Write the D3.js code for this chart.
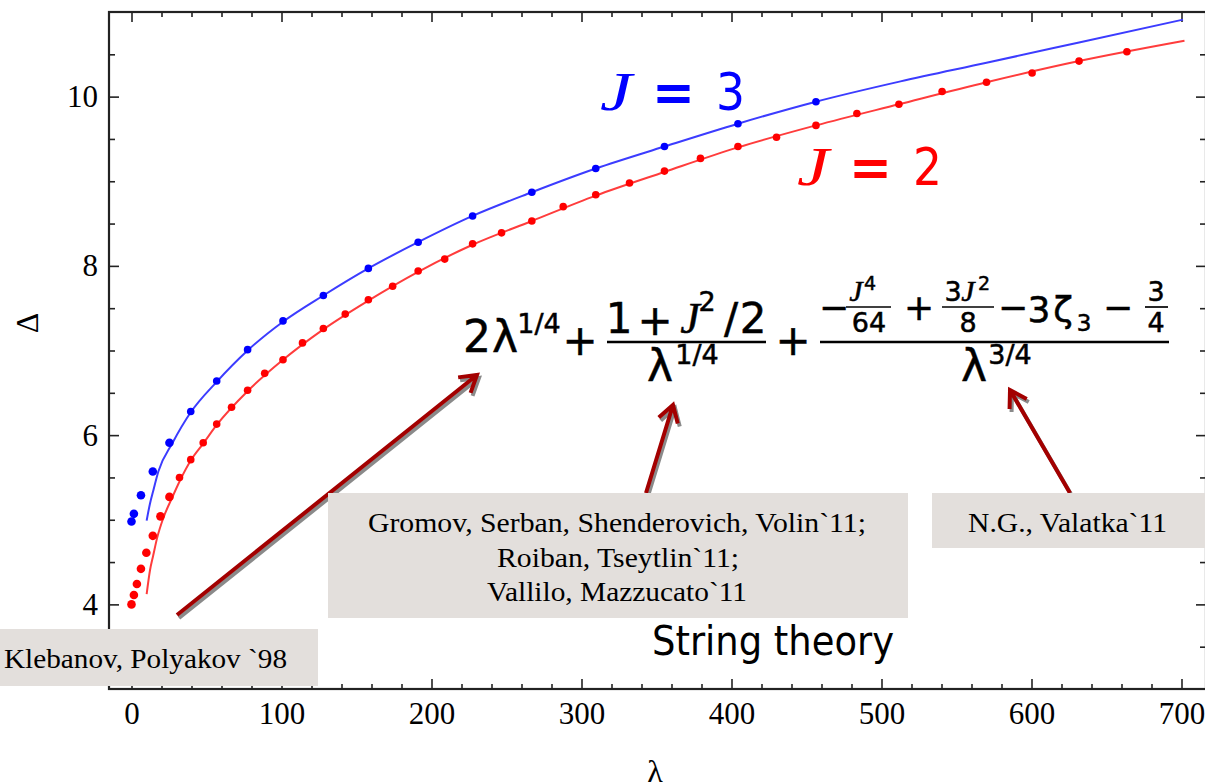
<!DOCTYPE html>
<html><head><meta charset="utf-8">
<script src="https://cdn.jsdelivr.net/npm/d3@7"></script>
<style>html,body{margin:0;padding:0;background:#fff;overflow:hidden}</style>
</head><body>
<svg id="c" width="1205" height="783"></svg>
<script>
// ---------- data ----------
const redLambda  = [0,1.6,3.6,6.3,9.9,14.2,19.3,25.3,32.0,39.5,47.8,56.8,66.7,77.4,88.8,101.0,114.0,127.9,142.5,157.9,174.1,191.1,208.8,227.4,246.7,266.9,287.8,309.5,332.0,355.3,379.3,404.3,430.0,456.3,483.6,511.6,540.4,570.0,600.4,631.7,663.6];
const redDelta   = [4.00,4.11,4.24,4.42,4.61,4.81,5.04,5.27,5.50,5.71,5.91,6.13,6.33,6.53,6.73,6.89,7.09,7.26,7.43,7.60,7.76,7.94,8.08,8.26,8.39,8.53,8.70,8.84,8.98,9.12,9.27,9.41,9.52,9.66,9.80,9.91,10.06,10.17,10.28,10.42,10.53];
const blueLambda = [0,1.6,6.3,14.2,25.3,39.5,56.8,77.4,101.0,127.9,157.9,191.1,227.4,266.9,309.5,355.3,404.3,456.3];
const blueDelta  = [4.98,5.07,5.29,5.57,5.91,6.28,6.64,7.01,7.35,7.65,7.97,8.28,8.59,8.87,9.15,9.41,9.68,9.94];
// string-theory curves
const redCurveLambda  = [10.1,12.3,14.5,17.0,21.2,26.8,32.5,39.5,47.8,56.8,77.4,101.0,127.9,157.9,191.1,227.4,266.9,309.5,355.3,404.3,456.3,511.6,570.0,631.7,702.0];
const redCurveDelta   = [4.12,4.40,4.58,4.78,5.02,5.25,5.47,5.70,5.90,6.12,6.52,6.89,7.25,7.59,7.93,8.25,8.53,8.83,9.11,9.40,9.66,9.91,10.17,10.42,10.66];
const blueCurveLambda = [10.1,12.3,14.6,17.9,27.4,39.5,56.8,77.4,101.0,127.9,157.9,191.1,227.4,266.9,309.5,355.3,404.3,456.3,512.7,570.0,631.7,701.0];
const blueCurveDelta  = [4.99,5.19,5.35,5.57,5.91,6.27,6.63,7.00,7.34,7.65,7.97,8.28,8.59,8.87,9.15,9.41,9.68,9.94,10.18,10.40,10.64,10.91];
const xTickLabels = [0,100,200,300,400,500,600,700];
const yTickLabels = [4,6,8,10];
const xMinorStep = 20, yMinorStep = 0.5;

// ---------- layout ----------
const svg = d3.select("#c");
const L = 109, R = 1206, T = 12, B = 689;
const x = d3.scaleLinear().domain([(L-131.5)/1.5, (R-131.5)/1.5]).range([L, R]);
const y = d3.scaleLinear().domain([3, 11]).range([B, T]);
const SERIF = "'Liberation Serif','Times New Roman',serif";
const SANS = "'DejaVu Sans',sans-serif";
const AX = "#222";

const xMinor = d3.range(0, 701, xMinorStep).filter(v => v % 100 !== 0);
const yMinor = d3.range(3.5, 10.51, yMinorStep).filter(v => !yTickLabels.includes(v));

function styleAxis(g){ g.select(".domain").remove(); g.selectAll("line").attr("stroke",AX).attr("stroke-width",1.6); }

svg.append("g").attr("transform",`translate(0,${B})`)
  .call(d3.axisBottom(x).tickValues(xTickLabels).tickSize(-10).tickPadding(13).tickFormat(d3.format("d")))
  .call(styleAxis).call(g=>g.selectAll("text").attr("font-family",SERIF).attr("font-size",31).attr("fill","#000"));
svg.append("g").attr("transform",`translate(0,${B})`)
  .call(d3.axisBottom(x).tickValues(xMinor).tickSize(-5).tickFormat("")).call(styleAxis);
svg.append("g").attr("transform",`translate(0,${T})`)
  .call(d3.axisTop(x).tickValues(xTickLabels).tickSize(-10).tickFormat("")).call(styleAxis);
svg.append("g").attr("transform",`translate(0,${T})`)
  .call(d3.axisTop(x).tickValues(xMinor).tickSize(-5).tickFormat("")).call(styleAxis);
svg.append("g").attr("transform",`translate(${L},0)`)
  .call(d3.axisLeft(y).tickValues(yTickLabels).tickSize(-10).tickPadding(11).tickFormat(d3.format("d")))
  .call(styleAxis).call(g=>g.selectAll("text").attr("font-family",SERIF).attr("font-size",31).attr("fill","#000"));
svg.append("g").attr("transform",`translate(${L},0)`)
  .call(d3.axisLeft(y).tickValues(yMinor).tickSize(-6).tickFormat("")).call(styleAxis);
svg.append("g").attr("transform",`translate(${R},0)`)
  .call(d3.axisRight(y).tickValues(yTickLabels).tickSize(-10).tickFormat("")).call(styleAxis);
svg.append("g").attr("transform",`translate(${R},0)`)
  .call(d3.axisRight(y).tickValues(yMinor).tickSize(-6).tickFormat("")).call(styleAxis);
svg.append("rect").attr("x",L).attr("y",T).attr("width",R-L).attr("height",B-T)
  .attr("fill","none").attr("stroke",AX).attr("stroke-width",2.2);

svg.append("text").attr("transform","translate(38,323) rotate(-90)").attr("text-anchor","middle")
  .attr("font-family",SERIF).attr("font-size",32).text("Δ");
svg.append("text").attr("x",655).attr("y",782).attr("text-anchor","middle")
  .attr("font-family",SERIF).attr("font-size",32).text("λ");

// ---------- curves and points ----------
const plot = svg.append("g");
const line = d3.line().x(d=>x(d[0])).y(d=>y(d[1])).curve(d3.curveMonotoneX);
const series = [
  {cl:blueCurveLambda, cd:blueCurveDelta, pl:blueLambda, pd:blueDelta, line:"#3c3cff", dot:"#0000ff"},
  {cl:redCurveLambda, cd:redCurveDelta, pl:redLambda, pd:redDelta, line:"#ff3c3c", dot:"#ff0000"}
];
series.forEach(s=>{
  plot.append("path").attr("d", line(d3.zip(s.cl, s.cd))).attr("fill","none")
    .attr("stroke", s.line).attr("stroke-width",2);
  plot.selectAll(null).data(d3.zip(s.pl, s.pd)).enter().append("circle")
    .attr("cx",d=>x(d[0])).attr("cy",d=>y(d[1])).attr("r",d=>d[0]<30?4.3:3.8).attr("fill",s.dot);
});

// ---------- labels J = 3 / J = 2 ----------
function jLabel(x0, yb, color, num){
  const g = svg.append("g").attr("fill", color);
  g.append("text").attr("x",x0).attr("y",yb).attr("font-family",SERIF).attr("font-style","italic")
    .attr("font-size",54).attr("textLength",32).attr("lengthAdjust","spacingAndGlyphs").text("J");
  g.append("text").attr("x",x0+52).attr("y",yb).attr("font-family",SANS).attr("font-weight","bold")
    .attr("font-size",52).attr("textLength",43).attr("lengthAdjust","spacingAndGlyphs").text("=");
  g.append("text").attr("x",x0+116).attr("y",yb).attr("font-family",SANS)
    .attr("font-size",52).attr("textLength",29).attr("lengthAdjust","spacingAndGlyphs").text(num);
}
jLabel(600, 110, "#0000ff", "3");
jLabel(797, 185, "#ff0000", "2");

// ---------- formula (glyphs centred at measured positions) ----------
const F = svg.append("g").attr("fill","#000").attr("stroke","#000").attr("stroke-width",0.5);
function t(cx, yb, s, size, italic){
  const e = F.append("text").attr("x",cx).attr("y",yb).attr("text-anchor","middle")
    .attr("font-family", italic ? SERIF : SANS).attr("font-size",size).text(s);
  if (italic) e.attr("font-style","italic");
  return e;
}
function bar(x1,x2,yy,w){ F.append("line").attr("x1",x1).attr("x2",x2).attr("y1",yy).attr("y2",yy).attr("stroke","#000").attr("stroke-width",w||2.6); }
// 2 lambda^(1/4)
t(477,352,"2",44); t(505,352,"λ",44); t(539,333,"1/4",27);
t(580,355,"+",42);
// (1 + J^2/2) / lambda^(1/4)
bar(607,766,342);
t(619,333,"1",42); t(655,335,"+",42); t(690,333,"J",44,true); t(707,311,"2",27);
t(731,333,"/",42); t(753,333,"2",42);
t(660,381,"λ",44); t(697,364,"1/4",27);
t(793,355,"+",42);
// second fraction
bar(820,1169,342);
t(834,320,"−",36);
t(856,301,"J",30,true); t(870,290,"4",19);
bar(846,891,307,1.7);
t(869,332,"64",27);
t(919,320,"+",36);
t(953,301,"3",27); t(968,301,"J",30,true); t(984,290,"2",19);
bar(942,994,307,1.7);
t(968,332,"8",27);
t(1013,320,"−",36);
t(1039,322,"3",36); t(1063,322,"ζ",36); t(1084,331,"3",23);
t(1118,320,"−",36);
t(1156,301,"3",27);
bar(1145,1168,307,1.7);
t(1156,332,"4",27);
t(974,381,"λ",44); t(1010,364,"3/4",27);

// ---------- arrows ----------
function arrow(x1,y1,x2,y2){
  const a = Math.atan2(y2-y1,x2-x1), Lh=19, s=0.55;
  const p1=[x2-Lh*Math.cos(a-s), y2-Lh*Math.sin(a-s)], p2=[x2-Lh*Math.cos(a+s), y2-Lh*Math.sin(a+s)];
  const d=`M${x1},${y1}L${x2},${y2}M${p1}L${x2},${y2}L${p2}`;
  svg.append("path").attr("d",d).attr("transform","translate(2,3)").attr("fill","none")
    .attr("stroke","#8a8a8a").attr("stroke-width",4);
  svg.append("path").attr("d",d).attr("fill","none").attr("stroke","#a30000").attr("stroke-width",4)
    .attr("stroke-linejoin","miter");
}
arrow(177,615,477,375);
arrow(646,493,673,405);
arrow(1070,493,1010,390);

// ---------- citation boxes ----------
const BOX = "#e3dfdc";
svg.append("rect").attr("x",0).attr("y",629).attr("width",318).attr("height",57).attr("fill",BOX);
svg.append("text").attr("x",4).attr("y",668).attr("font-family",SERIF).attr("font-size",28)
  .attr("textLength",283).attr("lengthAdjust","spacingAndGlyphs").text("Klebanov, Polyakov `98");
svg.append("rect").attr("x",328).attr("y",493).attr("width",580).attr("height",125).attr("fill",BOX);
[["Gromov, Serban, Shenderovich, Volin`11;",368,532,498],["Roiban, Tseytlin`11;",497,567,242],["Vallilo, Mazzucato`11",487,601,260]]
 .forEach(r=>svg.append("text").attr("x",r[1]).attr("y",r[2]).attr("font-family",SERIF).attr("font-size",28)
   .attr("textLength",r[3]).attr("lengthAdjust","spacingAndGlyphs").text(r[0]));
svg.append("rect").attr("x",932).attr("y",493).attr("width",280).attr("height",55).attr("fill",BOX);
svg.append("text").attr("x",968).attr("y",532).attr("font-family",SERIF).attr("font-size",28)
  .attr("textLength",199).attr("lengthAdjust","spacingAndGlyphs").text("N.G., Valatka`11");

svg.append("text").attr("x",652).attr("y",655).attr("font-family",SANS).attr("font-size",40)
  .attr("textLength",242).attr("lengthAdjust","spacingAndGlyphs").text("String theory");
</script>
</body></html>
